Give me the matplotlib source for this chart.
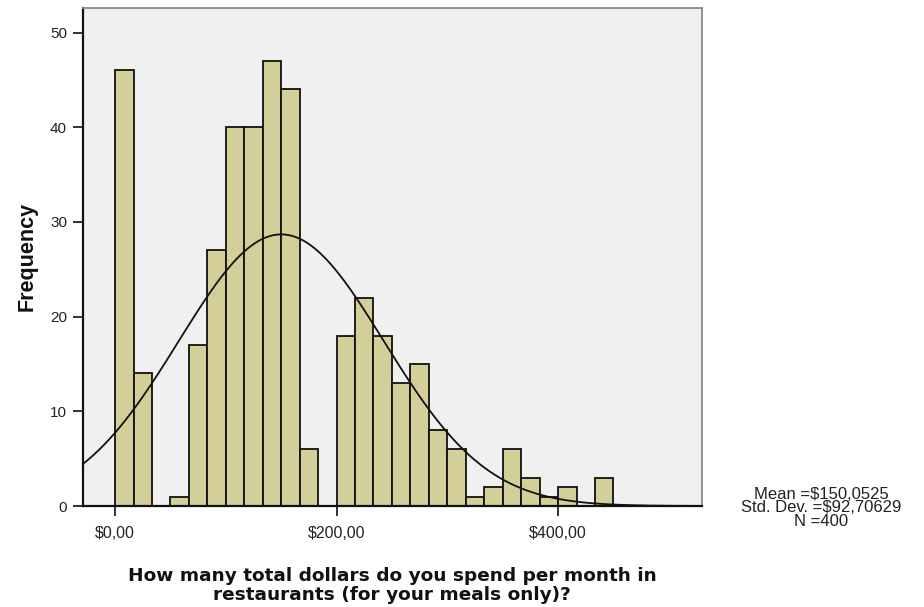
import numpy as np
import matplotlib
matplotlib.use("Agg")
import matplotlib.pyplot as plt

# ---- data ----
bin_start = 0.0
bin_width = 50.0 / 3.0
counts = [46, 14, 0, 1, 17, 27, 40, 40, 47, 44, 6, 0, 18, 22, 18, 13, 15, 8, 6, 1, 2, 6, 3, 1, 2, 0, 3]
mean = 150.0525
std = 92.70629
n = 400
x_ticks = [0, 200, 400]
x_tick_labels = ["$0,00", "$200,00", "$400,00"]
y_ticks = [0, 10, 20, 30, 40, 50]

plt.rcParams['font.family'] = ['Liberation Sans', 'DejaVu Sans']

fig = plt.figure(figsize=(9.24, 6.07), dpi=100)
ax = fig.add_axes([83/924, (607-506)/607, 619/924, 498/607])
ax.set_facecolor('#F0F0F0')

lefts = bin_start + np.arange(len(counts)) * bin_width
ax.bar(lefts, counts, width=bin_width, align='edge', color='#D4CF98',
       edgecolor='#111111', linewidth=1.3, zorder=2)

xlim = (-29, 530)
xs = np.linspace(xlim[0], xlim[1], 600)
ys = n * bin_width / (std * np.sqrt(2 * np.pi)) * np.exp(-0.5 * ((xs - mean) / std) ** 2)
ax.plot(xs, ys, color='#111111', linewidth=1.3, zorder=3)

ax.set_xlim(*xlim)
ax.set_ylim(0, 52.6)
ax.set_xticks(x_ticks)
ax.set_xticklabels(x_tick_labels)
ax.set_yticks(y_ticks)
ax.tick_params(axis='x', direction='out', length=7.5, width=1.3, pad=7, labelsize=11.5, colors='#222222')
ax.tick_params(axis='y', direction='out', length=7.5, width=1.3, pad=4, labelsize=11, colors='#222222')

for s in ['top', 'right']:
    ax.spines[s].set_color('#8a8a8a')
    ax.spines[s].set_linewidth(1.3)
for s in ['left', 'bottom']:
    ax.spines[s].set_color('#111111')
    ax.spines[s].set_linewidth(1.6)
ax.spines['bottom'].set_zorder(4)

fig.text(27/924, (607-256)/607, "Frequency", rotation=90, ha='center', va='center',
         fontsize=15.5, fontweight='bold', color='#111111')
fig.text(392/924, (607-567)/607,
         "How many total dollars do you spend per month in\nrestaurants (for your meals only)?",
         ha='center', va='top', fontsize=13.3, fontweight='bold', color='#111111',
         family=['DejaVu Sans'], linespacing=1.08)
fig.text(821/924, (607-508)/607,
         "Mean =$150,0525\nStd. Dev. =$92,70629\nN =400",
         ha='center', va='center', fontsize=12, color='#222222', linespacing=0.84,
         multialignment='center')

fig.savefig("out.png", dpi=100)
